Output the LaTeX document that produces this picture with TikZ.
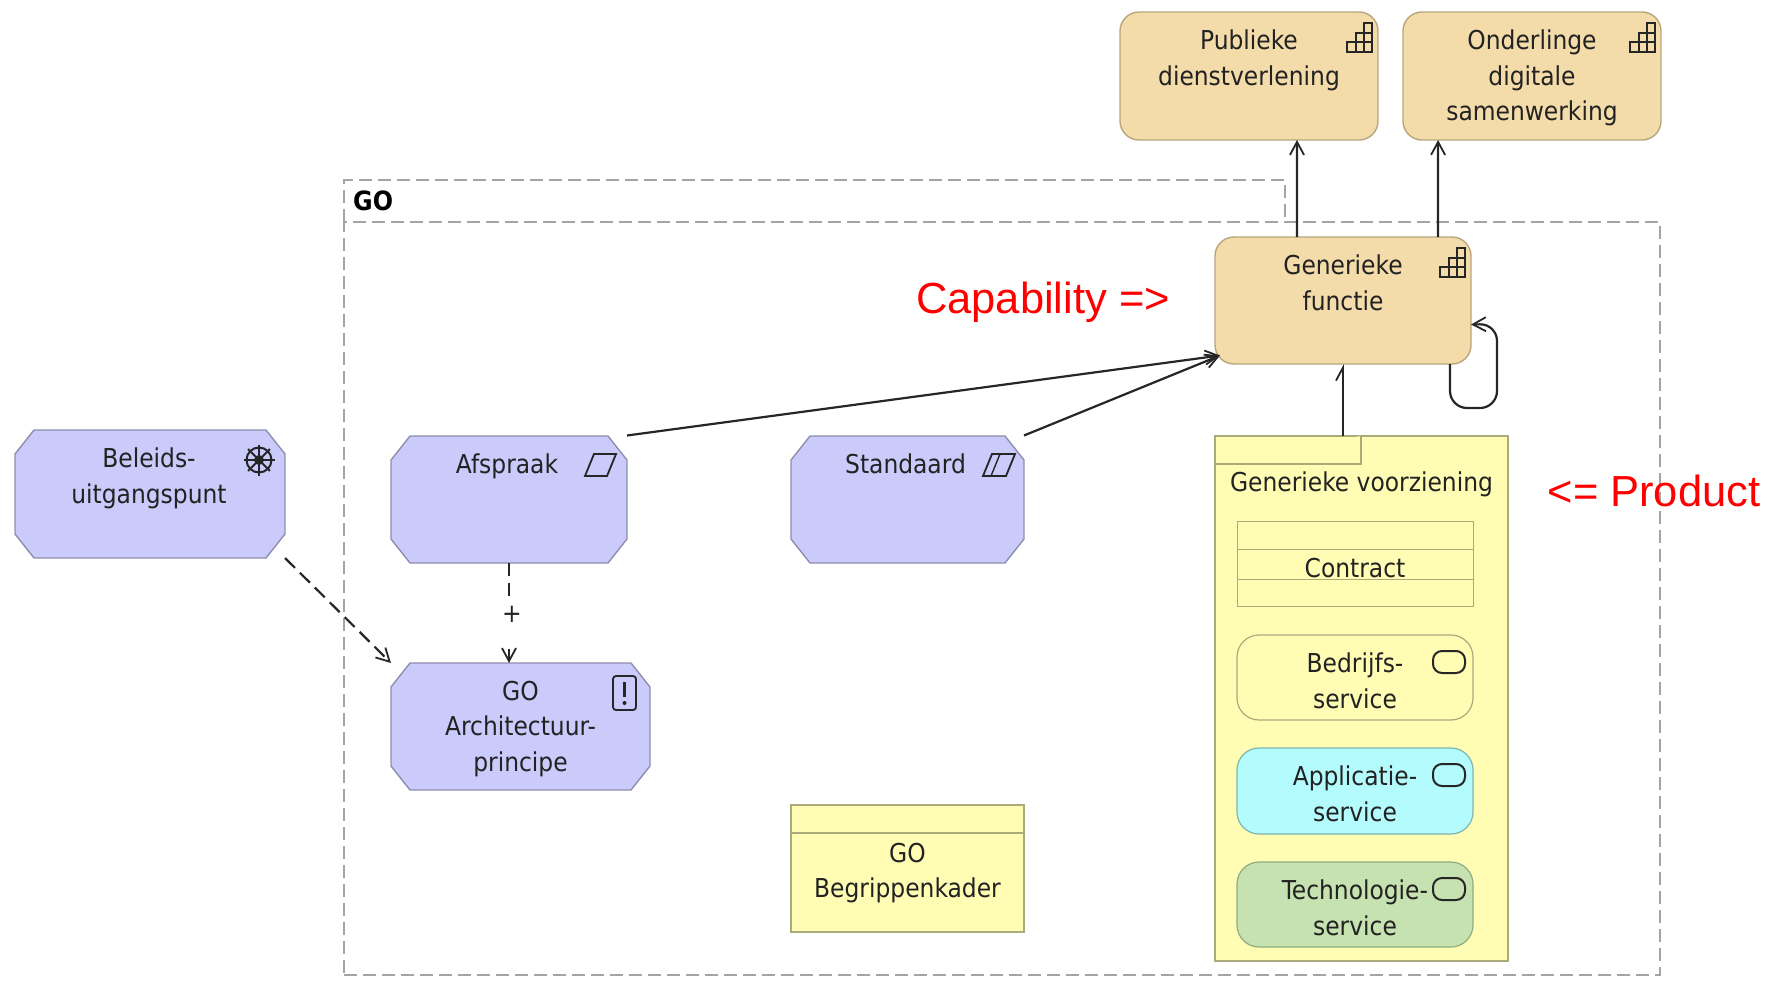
\documentclass[tikz,border=0pt]{standalone}
\usepackage{fontspec}
\setmainfont{DejaVu Sans Condensed}
\newfontfamily\redfont{Liberation Sans}
\usetikzlibrary{arrows.meta,calc}
\definecolor{capfill}{HTML}{F3DCA9}
\definecolor{capline}{HTML}{B9A67E}
\definecolor{motfill}{HTML}{CACAFB}
\definecolor{motline}{HTML}{8E8EAE}
\definecolor{yelfill}{HTML}{FFFDB4}
\definecolor{yelline}{HTML}{ABAA7A}
\definecolor{appfill}{HTML}{B4FBFD}
\definecolor{appline}{HTML}{7FB5B0}
\definecolor{tecfill}{HTML}{C5E2B0}
\definecolor{tecline}{HTML}{8FAD80}
\definecolor{grpline}{HTML}{A4A4A4}
\definecolor{inkc}{HTML}{222222}
\tikzset{
  sz/.style 2 args={minimum width=#1pt,minimum height=#2pt,inner sep=0pt,outer sep=0pt},
  capbox/.style={draw=capline,fill=capfill,line width=1.4pt,rounded corners=19pt},
  motbox/.style={draw=motline,fill=motfill,line width=1.4pt},
  yelbox/.style={draw=yelline,fill=yelfill,line width=1.2pt},
  svcbox/.style={line width=1.2pt,rounded corners=22pt},
  lbl/.style={inner sep=0pt,outer sep=0pt,align=center,anchor=north,text=inkc,font=\fontsize{26}{35.5}\selectfont},
  redlbl/.style={inner sep=0pt,text=red,font=\redfont\fontsize{43.5}{50}\selectfont},
  grp/.style={draw=grpline,line width=1.3pt,dash pattern=on 13pt off 6pt},
  conn/.style={draw=black!85,line width=2.2pt,-{Straight Barb[length=13pt,width=14pt,line width=1.8pt]}},
  icon/.style={draw=black!85,line width=1.8pt}
}
\newcommand{\capicon}[1]{\begin{scope}[shift={(#1.north east)}]
  \draw[icon,line width=2pt] (-31,40) -- (-6,40) -- (-6,11) -- (-14,11) -- (-14,21) -- (-22,21) -- (-22,30) -- (-31,30) -- cycle;
  \draw[icon,line width=2pt] (-22,30) -- (-6,30) (-14,21) -- (-6,21) (-22,30) -- (-22,40) (-14,21) -- (-14,40);
\end{scope}}
\newcommand{\svcicon}[1]{\begin{scope}[shift={(#1.north east)}]
  \draw[icon,line width=2pt,rounded corners=9pt] (-40,16) rectangle (-8,38);
\end{scope}}
\newcommand{\chamf}[1]{\filldraw[motbox] ($(#1.north west)+(19,0)$) -- ($(#1.north east)+(-19,0)$) -- ($(#1.north east)+(0,24)$) -- ($(#1.south east)+(0,-24)$) -- ($(#1.south east)+(-19,0)$) -- ($(#1.south west)+(19,0)$) -- ($(#1.south west)+(0,-24)$) -- ($(#1.north west)+(0,24)$) -- cycle;}
\begin{document}
\begin{tikzpicture}[x=1pt,y=-1pt]
\useasboundingbox (0,0) rectangle (1767,983);
% group
\node[grp,sz={1316}{753},anchor=north west] (go) at (344,222) {};
\node[draw=none,sz={941}{42},anchor=north west] (gotab) at (344,180) {};
\draw[grp] (gotab.south west) -- (gotab.north west) -- (gotab.north east) -- (gotab.south east);
\node[inner sep=0pt,anchor=west,font=\bfseries\fontsize{26.5}{32}\selectfont] (gotxt) at (353,201) {GO};
% capability
\node[capbox,sz={258}{128}] (pd) at (1249,76) {};
\node[capbox,sz={258}{128}] (od) at (1532,76) {};
\node[capbox,sz={256}{127}] (gf) at (1343,300.5) {};
\node[lbl] (pdt) at ($(pd.north)+(0,18)$) {Publieke\\dienstverlening};
\node[lbl] (odt) at ($(od.north)+(0,18)$) {Onderlinge\\digitale\\samenwerking};
\node[lbl] (gft) at ($(gf.north)+(0,18)$) {Generieke\\functie};
\capicon{pd}\capicon{od}\capicon{gf}
% motivation
\node[sz={270}{128}] (bu) at (150,494) {};
\node[sz={236}{127}] (af) at (509,499.5) {};
\node[sz={233}{127}] (st) at (907.5,499.5) {};
\node[sz={259}{127}] (ar) at (520.5,726.5) {};
\chamf{bu}\chamf{af}\chamf{st}\chamf{ar}
\node[lbl] (but) at ($(bu.north)+(-1,18)$) {Beleids-\\uitgangspunt};
\node[lbl] (aft) at ($(af.north)+(-2,18)$) {Afspraak};
\node[lbl] (stt) at ($(st.north)+(-2,18)$) {Standaard};
\node[lbl] (art) at ($(ar.north)+(0,18)$) {GO\\Architectuur-\\principe};
% driver icon
\begin{scope}[shift={(bu.north east)}]
  \draw[icon,line width=2pt] (-26,30) circle (12.5pt);
  \fill[black!85] (-26,30) circle (5pt);
  \foreach \a in {0,45,...,315} \draw[icon,line width=2pt] ($(-26,30)+(\a:15.5pt)$) -- (-26,30);
\end{scope}
% contract icons
\begin{scope}[shift={(af.north east)}]
  \draw[icon] (-42,40) -- (-33,18) -- (-11,18) -- (-20,40) -- cycle;
\end{scope}
\begin{scope}[shift={(st.north east)}]
  \draw[icon] (-41,40) -- (-32,18) -- (-9,18) -- (-18,40) -- cycle;
  \draw[icon,line width=1.4pt] (-33,40) -- (-24,18);
\end{scope}
% principle icon
\begin{scope}[shift={(ar.north east)}]
  \draw[icon,rounded corners=3pt] (-37,13) rectangle (-14,47);
  \draw[icon,line width=3pt] (-25.5,19) -- (-25.5,34);
  \fill[black!85] (-25.5,40) circle (2pt);
\end{scope}
% Begrippenkader
\node[yelbox,sz={233}{127}] (bk) at (907.5,868.5) {};
\draw[yelbox] ($(bk.north west)+(0,28)$) -- ($(bk.north east)+(0,28)$);
\node[lbl] (bkt) at ($(bk.north)+(0,38)$) {GO\\Begrippenkader};
% product
\node[yelbox,sz={293}{525}] (gv) at (1361.5,698.5) {};
\draw[yelbox] ($(gv.north west)+(0,28)$) -- ++(146,0) -- ++(0,-28);
\node[lbl] (gvt) at ($(gv.north)+(0,36)$) {Generieke voorziening};
\node[yelbox,fill=none,line width=1pt,sz={236}{85}] (co) at (1355,563.5) {};
\draw[yelbox,line width=1pt] ($(co.north west)+(0,28)$) -- ($(co.north east)+(0,28)$);
\draw[yelbox,line width=1pt] ($(co.south west)+(0,-27)$) -- ($(co.south east)+(0,-27)$);
\node[lbl,anchor=center] (cot) at ($(co.center)+(0,5)$) {Contract};
\node[svcbox,draw=yelline,fill=yelfill,sz={236}{85}] (bs) at (1355,677.5) {};
\node[svcbox,draw=appline,fill=appfill,sz={236}{86}] (as) at (1355,791) {};
\node[svcbox,draw=tecline,fill=tecfill,sz={236}{85}] (ts) at (1355,904.5) {};
\node[lbl] (bst) at ($(bs.north)+(0,18)$) {Bedrijfs-\\service};
\node[lbl] (ast) at ($(as.north)+(0,18)$) {Applicatie-\\service};
\node[lbl] (tst) at ($(ts.north)+(0,18)$) {Technologie-\\service};
\svcicon{bs}\svcicon{as}\svcicon{ts}
% red annotations
\node[redlbl] (capt) at (1043,302.5) {Capability =>};
\node[redlbl] (prod) at (1654,491) {<= Product};
% connectors
\draw[conn] ($(gf.north west)!.32!(gf.north east)$) -- ($(pd.south west)!.686!(pd.south east)$);
\draw[conn] ($(gf.north west)!.871!(gf.north east)$) -- ($(od.south west)!.136!(od.south east)$);
\draw[conn,-{Straight Barb[harpoon,length=13pt,width=14pt,line width=1.8pt]}] (gv.north -| gf.south) -- (gf.south);
\draw[conn] ($(af)+(118,-64)$) -- ($(gf)+(-123,55)$);
\draw[conn] ($(st)+(116.5,-64)$) -- ($(gf)+(-123,55)$);
\draw[conn,rounded corners=17pt] ($(gf.south west)!.918!(gf.south east)$) -- ++(0,44) -- ++(47,0) -- ++(0,-84) -- ($(gf)+(128,24)$);
\draw[conn,dash pattern=on 14pt off 7pt] ($(bu)+(135,64)$) -- ($(ar)+(-129.5,-63.5)$);
\node[lbl,anchor=center,font=\fontsize{26}{30}\selectfont] (plus) at (512,614) {+};
\draw[draw=black!85,line width=2pt,dash pattern=on 13pt off 7pt] (af.south) -- ($(plus.north -| af.south)+(0,-9)$);
\draw[conn] ($(ar.north -| af.south)+(0,-14)$) -- (ar.north -| af.south);
\end{tikzpicture}
\end{document}
